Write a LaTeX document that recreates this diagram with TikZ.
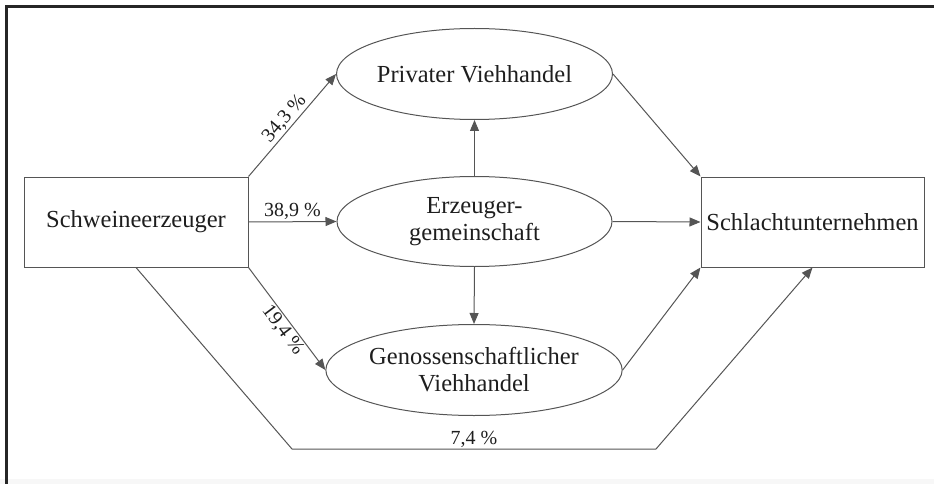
\documentclass[tikz,border=0pt]{standalone}
\usepackage{fontspec}
\setmainfont{Liberation Serif}
\usetikzlibrary{shapes.geometric,arrows.meta}
\definecolor{ink}{HTML}{1E1E1E}
\definecolor{wire}{HTML}{555555}
\tikzset{
  boxnode/.style={draw=wire, line width=1pt, rectangle, minimum width=224pt, minimum height=90pt,
    inner sep=0pt, text=ink, font=\fontsize{24.5}{27}\selectfont},
  ovalnode/.style={draw=wire, line width=1pt, ellipse, minimum width=275pt, minimum height=91pt,
    inner sep=0pt, text=ink, align=center, font=\fontsize{24.5}{27}\selectfont},
  flow/.style={draw=wire, line width=1pt, -{Triangle[length=11pt,width=9pt]}},
  share/.style={text=ink, font=\fontsize{20}{22}\selectfont, inner sep=1.5pt}
}
\begin{document}
\begin{tikzpicture}[x=1pt,y=-1pt]
\useasboundingbox (0,0) rectangle (934,484);
% faint strip along the bottom edge and the dark frame lines
\fill[gray!6] (0,479) rectangle (934,484);
\draw[line width=3pt, gray!30!black] (6.5,484) -- (6.5,7) -- (934,7);

% nodes
\node[boxnode] (erz) at (136,222) {Schweineerzeuger};
\node[boxnode, minimum width=223pt] (sch) at (812.5,222) {Schlachtunternehmen};
\node[ovalnode] (pri) at (474.5,74) {Privater Viehhandel};
\node[ovalnode, minimum height=90pt] (eg) at (474.5,221.5) {Erzeuger-\\gemeinschaft};
\node[ovalnode, minimum width=276pt] (gen) at (474,370) {Genossenschaftlicher\\Viehhandel};

% flows from the producers
\draw[flow] (erz.north east) -- node[share, above, sloped, pos=0.5] {34,3 \%} (pri.west);
\draw[flow] (erz.east) -- node[share, above] {38,9 \%} (eg.west);
\draw[flow] (erz.south east) -- node[share, below, sloped, pos=0.55] {19,4 \%} (gen.west);
\draw[flow] (erz.south) -- (292,449) -- node[share, above, inner sep=0.5pt] {7,4 \%} (656,449) -- (sch.south);

% flows through the producer group
\draw[flow] (eg.north) -- (pri.south);
\draw[flow] (eg.south) -- (gen.north);
\draw[flow] (eg.east) -- (sch.west);

% flows into the slaughterhouses
\draw[flow] (pri.east) -- (sch.north west);
\draw[flow] (gen.east) -- (sch.south west);
\end{tikzpicture}
\end{document}
